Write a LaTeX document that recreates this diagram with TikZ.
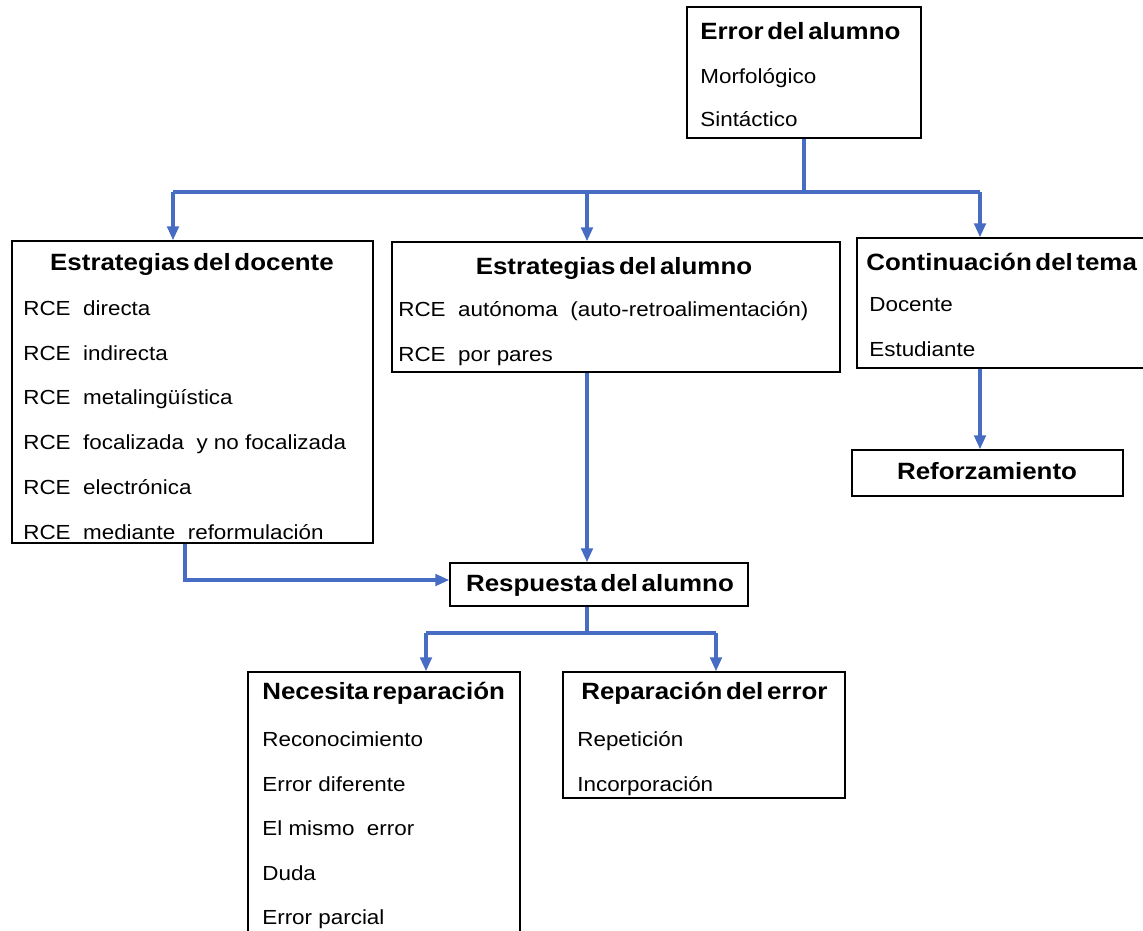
\documentclass[tikz,border=0pt]{standalone}
\usepackage{fontspec}
\setmainfont{Liberation Sans}[FakeStretch=1.1, BoldFeatures={WordSpace=0.5}]
\usetikzlibrary{arrows.meta,fit}
\definecolor{flowblue}{RGB}{70,108,196}

\begin{document}
\begin{tikzpicture}[x=0.2mm, y=-0.2mm,
		box/.style={draw, line width=0.7pt, inner sep=0pt},
		title/.style={font=\bfseries\fontsize{13.4}{15}\selectfont, anchor=base, inner sep=0pt},
		item/.style={font=\fontsize{11.6}{13}\selectfont, anchor=base west, inner sep=0pt},
		flow/.style={draw=flowblue, line width=2.1pt, -{Triangle[length=8pt,width=6.5pt]}},
		link/.style={draw=flowblue, line width=2.1pt}]
		\useasboundingbox (0,0) rectangle (1143,930);
		% boxes
		\node[box, fit={(687,7) (921,138)}] (err) {};
		\node[box, fit={(12,241) (373,543)}] (doc) {};
		\node[box, fit={(392,242) (840,372)}] (alu) {};
		\node[box, fit={(857,238) (1150,368)}] (con) {};
		\node[box, fit={(852,450) (1123,496)}] (ref) {};
		\node[box, fit={(450,563) (748,606)}] (res) {};
		\node[box, fit={(248,672) (520,945)}] (nec) {};
		\node[box, fit={(563,672) (845,798)}] (rep) {};
		% texts
		\node[title, anchor=base west] (errt) at (700,39) {Error del alumno};
		\node[item] (err1) at (700,83) {Morfológico};
		\node[item] (err2) at (700,126) {Sintáctico};
		\node[title] (doct) at (192,270) {Estrategias del docente};
		\node[item] (doc1) at (23,315) {RCE\ \ directa};
		\node[item] (doc2) at (23,360) {RCE\ \ indirecta};
		\node[item] (doc3) at (23,404) {RCE\ \ metalingüística};
		\node[item] (doc4) at (23,449) {RCE\ \ focalizada\ \ y no focalizada};
		\node[item] (doc5) at (23,494) {RCE\ \ electrónica};
		\node[item] (doc6) at (23,539) {RCE\ \ mediante\ \ reformulación};
		\node[title] (alut) at (614,274) {Estrategias del alumno};
		\node[item] (alu1) at (398,316) {RCE\ \ autónoma\ \ (auto-retroalimentación)};
		\node[item] (alu2) at (398,361) {RCE\ \ por pares};
		\node[title, anchor=base west] (cont) at (866,270) {Continuación del tema};
		\node[item] (con1) at (869,311) {Docente};
		\node[item] (con2) at (869,356) {Estudiante};
		\node[title] (reft) at (987,479) {Reforzamiento};
		\node[title] (rest) at (600,591) {Respuesta del alumno};
		\node[title, anchor=base west] (nect) at (262,699) {Necesita reparación};
		\node[item] (nec1) at (262,746) {Reconocimiento};
		\node[item] (nec2) at (262,791) {Error diferente};
		\node[item] (nec3) at (262,835) {El mismo\ \ error};
		\node[item] (nec4) at (262,880) {Duda};
		\node[item] (nec5) at (262,924) {Error parcial};
		\node[title, anchor=base west] (rept) at (581,699) {Reparación del error};
		\node[item] (rep1) at (577,746) {Repetición};
		\node[item] (rep2) at (577,791) {Incorporación};
		% branch points
		\coordinate (ax) at (173,192);
		\coordinate (bx) at (587,192);
		\coordinate (cx) at (980,192);
		\coordinate (dx) at (185,580);
		\coordinate (ex) at (426,633);
		\coordinate (fx) at (716,633);
		% connectors
		\draw[link] (err.south) -- (err.south |- ax);
		\draw[link] (ax) -- (cx);
		\draw[flow] (ax) -- (ax |- doc.north);
		\draw[flow] (bx) -- (bx |- alu.north);
		\draw[flow] (cx) -- (cx |- con.north);
		\draw[flow] (cx |- con.south) -- (cx |- ref.north);
		\draw[flow] (bx |- alu.south) -- (bx |- res.north);
		\draw[flow] (dx |- doc.south) -- (dx) -- (dx -| res.west);
		\draw[link] (bx |- res.south) -- (bx |- ex);
		\draw[link] (ex) -- (fx);
		\draw[flow] (ex) -- (ex |- nec.north);
		\draw[flow] (fx) -- (fx |- rep.north);
\end{tikzpicture}
\end{document}
